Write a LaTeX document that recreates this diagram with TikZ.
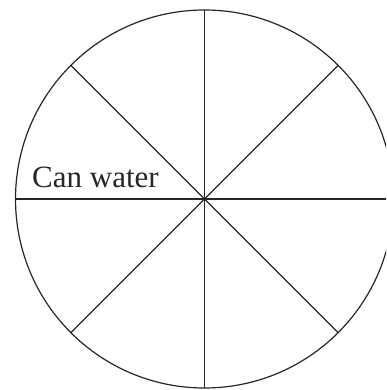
\documentclass[tikz,border=0pt]{standalone}
\usepackage{fontspec}
\setmainfont{Liberation Serif}
\begin{document}
\begin{tikzpicture}[x=1pt,y=1pt,
  wheel/.style={circle,draw=black!85,line width=1.2pt,inner sep=0pt,outer sep=0pt,minimum size=378pt},
  spoke/.style={draw=black!85,line width=1.2pt},
  lbl/.style={anchor=base west,inner sep=0pt,text=black!85,font=\fontsize{31}{37}\selectfont}]
\useasboundingbox (0,0) rectangle (386,-390);
\clip (0,0) rectangle (386,-390);
\node[wheel] (c) at (204.5,-199) {};
\draw[spoke] (c.north) -- (c.south);
\draw[spoke] (c.west) -- (c.east);
\draw[spoke] (c.north west) -- (c.south east);
\draw[spoke] (c.north east) -- (c.south west);
\node[lbl] (t) at (32,-187) {Can water};
\end{tikzpicture}
\end{document}
